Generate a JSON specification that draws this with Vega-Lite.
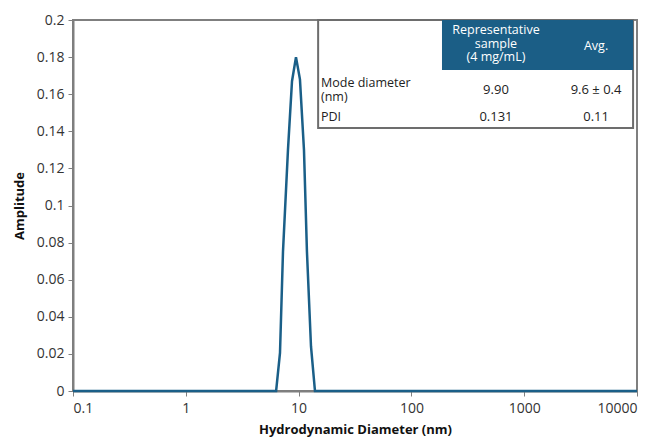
{
  "$schema": "https://vega.github.io/schema/vega-lite/v6.json",
  "width": 564,
  "height": 371,
  "autosize": "none",
  "padding": {"left": 73, "top": 20, "right": 19, "bottom": 46},
  "config": {
    "view": {"stroke": "#7f7f7f", "strokeWidth": 2},
    "font": "Open Sans",
    "axis": {"grid": false, "domainColor": "#7f7f7f", "domainWidth": 2, "tickColor": "#7f7f7f", "labelColor": "#333333", "labelFontSize": 14, "titleFontSize": 13, "titleFontWeight": "bold", "titleColor": "#111111", "labelFont": "Open Sans", "titleFont": "Open Sans"}
  },
  "layer": [
    {
      "data": {"values": [
        {"d": 0.1, "amp": 0},
        {"d": 6.32, "amp": 0},
        {"d": 6.84, "amp": 0.0205},
        {"d": 7.27, "amp": 0.075},
        {"d": 8.05, "amp": 0.13},
        {"d": 8.74, "amp": 0.167},
        {"d": 9.48, "amp": 0.18},
        {"d": 10.28, "amp": 0.168},
        {"d": 11.16, "amp": 0.13},
        {"d": 11.86, "amp": 0.075},
        {"d": 12.88, "amp": 0.024},
        {"d": 13.97, "amp": 0},
        {"d": 10000, "amp": 0}
      ]},
      "mark": {"type": "line", "color": "#1a5f88", "strokeWidth": 2.5},
      "encoding": {
        "x": {"field": "d", "type": "quantitative", "scale": {"type": "log", "domain": [0.1, 10000]},
              "axis": {"values": [0.1, 1, 10, 100, 1000, 10000], "format": "~g", "title": "Hydrodynamic Diameter (nm)", "labelPadding": 5, "titlePadding": 8, "labelOverlap": false}},
        "y": {"field": "amp", "type": "quantitative", "scale": {"domain": [0, 0.2]},
              "axis": {"values": [0, 0.02, 0.04, 0.06, 0.08, 0.1, 0.12, 0.14, 0.16, 0.18, 0.2], "format": "~g", "title": "Amplitude", "labelPadding": 4, "titlePadding": 10, "labelOverlap": false, "labelBound": false, "tickCount": 11}}
      }
    },
    {
      "data": {"values": [
        {"x1": 14.9, "x2": 9230, "y1": 0.1418, "y2": 0.2}
      ]},
      "mark": {"type": "rect", "fill": "white", "stroke": "#6d6d6d", "strokeWidth": 2},
      "encoding": {
        "x": {"field": "x1", "type": "quantitative"},
        "x2": {"field": "x2"},
        "y": {"field": "y1", "type": "quantitative"},
        "y2": {"field": "y2"}
      }
    },
    {
      "data": {"values": [
        {"x1": 186.7, "x2": 9230, "y1": 0.173, "y2": 0.2}
      ]},
      "mark": {"type": "rect", "fill": "#1b5e86"},
      "encoding": {
        "x": {"field": "x1", "type": "quantitative"},
        "x2": {"field": "x2"},
        "y": {"field": "y1", "type": "quantitative"},
        "y2": {"field": "y2"}
      }
    },
    {
      "data": {"values": [
        {"t": "Representative\nsample\n(4 mg/mL)", "x": 562, "y": 0.1946},
        {"t": "Avg.", "x": 4335, "y": 0.1860}
      ]},
      "mark": {"type": "text", "fontSize": 12.5, "align": "center", "baseline": "middle", "color": "#ffffff", "lineBreak": "\n", "lineHeight": 13.5},
      "encoding": {
        "x": {"field": "x", "type": "quantitative"},
        "y": {"field": "y", "type": "quantitative"},
        "text": {"field": "t"}
      }
    },
    {
      "data": {"values": [
        {"t": "9.90", "x": 562, "y": 0.1625},
        {"t": "9.6 ± 0.4", "x": 4335, "y": 0.1625},
        {"t": "0.131", "x": 562, "y": 0.1477},
        {"t": "0.11", "x": 4335, "y": 0.1477}
      ]},
      "mark": {"type": "text", "fontSize": 13, "align": "center", "baseline": "middle", "color": "#222222"},
      "encoding": {
        "x": {"field": "x", "type": "quantitative"},
        "y": {"field": "y", "type": "quantitative"},
        "text": {"field": "t"}
      }
    },
    {
      "data": {"values": [
        {"t": "Mode diameter\n(nm)", "x": 15.8, "y": 0.1660},
        {"t": "PDI", "x": 15.8, "y": 0.1477}
      ]},
      "mark": {"type": "text", "fontSize": 12.5, "align": "left", "baseline": "middle", "color": "#222222", "lineBreak": "\n", "lineHeight": 13.5},
      "encoding": {
        "x": {"field": "x", "type": "quantitative"},
        "y": {"field": "y", "type": "quantitative"},
        "text": {"field": "t"}
      }
    }
  ]
}
